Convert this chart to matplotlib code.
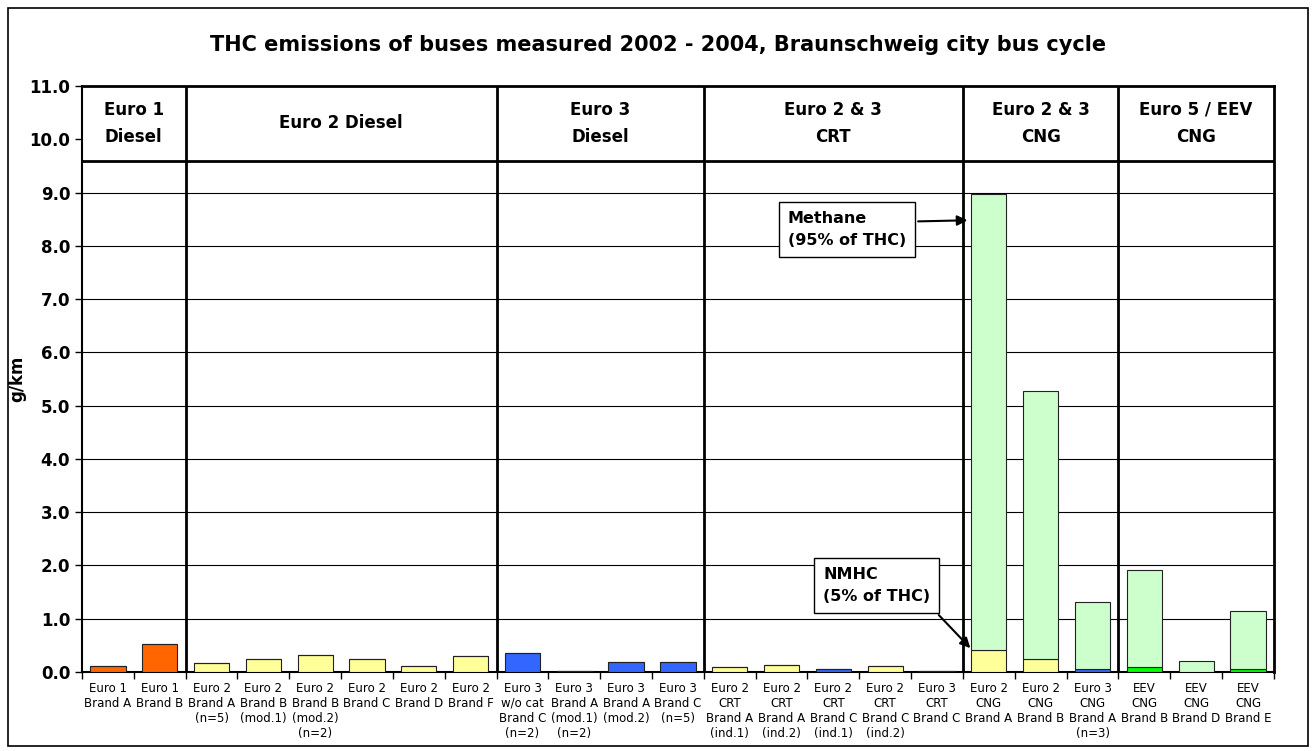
import matplotlib.pyplot as plt
import numpy as np
from matplotlib.patches import Rectangle

labels = [
    "Euro 1\nBrand A", "Euro 1\nBrand B",
    "Euro 2\nBrand A\n(n=5)", "Euro 2\nBrand B\n(mod.1)", "Euro 2\nBrand B\n(mod.2)\n(n=2)",
    "Euro 2\nBrand C", "Euro 2\nBrand D", "Euro 2\nBrand F",
    "Euro 3\nw/o cat\nBrand C\n(n=2)", "Euro 3\nBrand A\n(mod.1)\n(n=2)", "Euro 3\nBrand A\n(mod.2)",
    "Euro 3\nBrand C\n(n=5)",
    "Euro 2\nCRT\nBrand A\n(ind.1)", "Euro 2\nCRT\nBrand A\n(ind.2)", "Euro 2\nCRT\nBrand C\n(ind.1)",
    "Euro 2\nCRT\nBrand C\n(ind.2)", "Euro 3\nCRT\nBrand C",
    "Euro 2\nCNG\nBrand A", "Euro 2\nCNG\nBrand B", "Euro 3\nCNG\nBrand A\n(n=3)",
    "EEV\nCNG\nBrand B", "EEV\nCNG\nBrand D", "EEV\nCNG\nBrand E",
]
# THC (diesel) or NMHC (CNG) part, g/km
nmhc = [0.12, 0.52, 0.16, 0.24, 0.32, 0.24, 0.12, 0.30, 0.36, 0.01, 0.18, 0.18,
        0.09, 0.13, 0.05, 0.11, 0.02, 0.42, 0.25, 0.05, 0.10, 0.0, 0.05]
# methane part (CNG buses only)
methane = [0, 0, 0, 0, 0, 0, 0, 0, 0, 0, 0, 0,
           0, 0, 0, 0, 0, 8.55, 5.02, 1.27, 1.82, 0.20, 1.10]
bar_colors = ["#FF6600"] * 2 + ["#FFFF99"] * 6 + ["#3366FF"] * 4 + \
    ["#FFFF99", "#FFFF99", "#3366FF", "#FFFF99", "#3366FF"] + \
    ["#FFFF99", "#FFFF99", "#3366FF", "#00FF00", "#00FF00", "#00FF00"]

groups = ["Euro 1\nDiesel", "Euro 2 Diesel", "Euro 3\nDiesel", "Euro 2 & 3\nCRT",
          "Euro 2 & 3\nCNG", "Euro 5 / EEV\nCNG"]
group_sizes = [2, 6, 4, 5, 3, 3]

fig = plt.figure(figsize=(13.16, 7.51), dpi=100)
ax = fig.add_axes([0.0623, 0.1052, 0.9057, 0.7803])

x = np.arange(len(labels))
ax.bar(x, nmhc, width=0.68, color=bar_colors, edgecolor="#222222", linewidth=0.8, zorder=3)
ax.bar(x, methane, width=0.68, bottom=nmhc, color="#CCFFCC", edgecolor="#222222",
       linewidth=0.8, zorder=3)

ax.set_xlim(-0.5, len(labels) - 0.5)
ax.set_ylim(0, 11)
ax.set_yticks(np.arange(0, 11.5, 1.0))
ax.set_yticklabels([f"{v:.1f}" for v in np.arange(0, 11.5, 1.0)],
                   fontsize=12, fontweight="bold")
ax.set_xticks(x)
ax.set_xticklabels(labels, fontsize=8.5, va="top", linespacing=1.2)
ax.tick_params(axis="x", length=0, pad=7)
ax.set_xticks(np.arange(-0.5, len(labels), 1.0), minor=True)
ax.tick_params(axis="x", which="minor", length=5, width=1)
ax.tick_params(axis="y", length=5, width=1)
ax.set_ylabel("g/km", fontsize=12, fontweight="bold")
ax.yaxis.set_label_coords(-0.047, 0.5)

for yv in range(1, 10):
    ax.axhline(yv, color="black", linewidth=0.8, zorder=1)
ax.axhline(9.6, color="black", linewidth=2, zorder=4)

for s in ax.spines.values():
    s.set_linewidth(1.5)
ax.spines["top"].set_linewidth(2)
ax.spines["right"].set_linewidth(2)

start = -0.5
for name, n in zip(groups, group_sizes):
    end = start + n
    if end < len(labels) - 0.5:
        ax.axvline(end, color="black", linewidth=2, zorder=4)
    ax.text((start + end) / 2, 10.3, name, ha="center", va="center",
            fontsize=12, fontweight="bold", linespacing=1.65)
    start = end

box = dict(boxstyle="square,pad=0.55", facecolor="white", edgecolor="black", linewidth=1)
ax.annotate("Methane\n(95% of THC)", xy=(16.64, 8.48), xytext=(13.12, 8.3),
            fontsize=11.5, fontweight="bold", ha="left", va="center", bbox=box,
            linespacing=1.6,
            arrowprops=dict(arrowstyle="-|>", color="black", lw=1.5, mutation_scale=15,
                            relpos=(1, 0.72)),
            zorder=6)
ax.annotate("NMHC\n(5% of THC)", xy=(16.68, 0.41), xytext=(13.8, 1.63),
            fontsize=11.5, fontweight="bold", ha="left", va="center", bbox=box,
            linespacing=1.6,
            arrowprops=dict(arrowstyle="-|>", color="black", lw=1.5, mutation_scale=15,
                            relpos=(0.98, 0)),
            zorder=6)

fig.text(0.5, 0.94, "THC emissions of buses measured 2002 - 2004, Braunschweig city bus cycle",
         ha="center", va="center", fontsize=15, fontweight="bold")

fig.patches.append(Rectangle((0.006, 0.006), 0.988, 0.984, transform=fig.transFigure,
                             fill=False, edgecolor="black", linewidth=1.2))

fig.savefig("out.png", dpi=100)
